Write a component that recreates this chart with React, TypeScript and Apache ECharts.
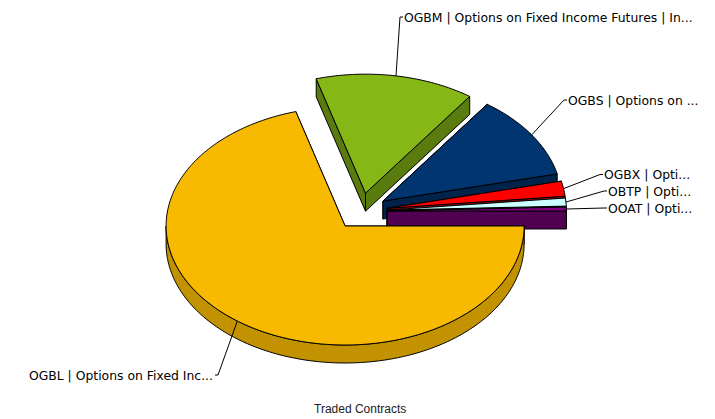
import React, { useEffect, useRef } from "react";
import * as echarts from "echarts";

const sliceLabels = [
  "OGBL | Options on Fixed Inc...",
  "OGBM | Options on Fixed Income Futures | In...",
  "OGBS | Options on ...",
  "OGBX | Opti...",
  "OBTP | Opti...",
  "OOAT | Opti...",
];
const sliceValues = [70.56, 14.33, 11.44, 2.06, 1.08, 0.53];
const chartTitle = "Traded Contracts";

const topColors = ["#F8BA00", "#85B716", "#003570", "#FF0000", "#CCFFFF", "#800080"];
const sideColors = ["#C29200", "#5A7C0F", "#00234C", "#B00000", "#99CCCC", "#520052"];
// label anchor: [x, y, align]
const labelLayout: [number, number, string][] = [
  [213, 375, "right"],
  [404, 17, "left"],
  [568, 100, "left"],
  [604, 174.5, "left"],
  [608, 191, "left"],
  [608, 208, "left"],
];

const CX = 361;
const CY = 211.3;
const RX = 179;
const RY = 119;
const EX = 26.4;
const EY = 18.4;
const DEPTH = 18;
const rad = (d: number) => (d * Math.PI) / 180;

const total = sliceValues.reduce((s, v) => s + v, 0);
const angles: [number, number][] = [];
{
  let t = 360;
  sliceValues.forEach((v) => {
    const next = t - (v / total) * 360;
    angles.push([next, t]);
    t = next;
  });
}

function renderItem(params: any, api: any) {
  const i = params.dataIndex;
  const [t0, t1] = angles[i];
  const mid = (t0 + t1) / 2;
  const ox = CX + EX * Math.cos(rad(mid));
  const oy = CY - EY * Math.sin(rad(mid));
  const pt = (t: number, dz = 0): [number, number] => [
    ox + RX * Math.cos(rad(t)),
    oy - RY * Math.sin(rad(t)) + dz,
  ];
  const arc = (a: number, b: number, dz = 0) => {
    const n = Math.max(2, Math.ceil(Math.abs(b - a) / 1));
    const out: [number, number][] = [];
    for (let k = 0; k <= n; k++) out.push(pt(a + ((b - a) * k) / n, dz));
    return out;
  };
  const apex: [number, number] = [ox, oy];
  const apexLow: [number, number] = [ox, oy + DEPTH];
  const base = i === 0 ? 100 : i * 10;
  const side = { fill: sideColors[i], stroke: "#000", lineWidth: 1, lineJoin: "round" };
  const children: any[] = [];
  const wall = (points: [number, number][]) =>
    children.push({
      type: "polygon",
      z2: base + children.length,
      shape: { points },
      style: side,
      silent: true,
    });
  wall([apex, pt(t1), pt(t1, DEPTH), apexLow]);
  wall([apex, pt(t0), pt(t0, DEPTH), apexLow]);
  const a = Math.max(t0, 180);
  const b = Math.min(t1, 360);
  if (b > a) wall([...arc(a, b), ...arc(b, a, DEPTH)]);
  children.push({
    type: "polygon",
    z2: base + children.length,
    shape: { points: [apex, ...arc(t0, t1)] },
    style: { fill: topColors[i], stroke: "#000", lineWidth: 1, lineJoin: "round" },
    silent: true,
  });
  const [lx, ly, align] = labelLayout[i];
  const anchor = pt(mid);
  const elbowX = align === "right" ? lx + 2 : lx - 1;
  const hookX = align === "right" ? lx + 5 : lx - 4;
  children.push({
    type: "polyline",
    z2: 200,
    shape: { points: [anchor, [hookX, ly], [elbowX, ly]] },
    style: { stroke: "#000", lineWidth: 1, fill: "none" },
    silent: true,
  });
  children.push({
    type: "text",
    z2: 201,
    x: lx,
    y: ly,
    style: {
      text: sliceLabels[i],
      fill: "#000",
      font: "12.4px 'DejaVu Sans'",
      align,
      verticalAlign: "middle",
    },
    silent: true,
  });
  return { type: "group", children };
}

export default function App() {
  const ref = useRef<HTMLDivElement>(null);
  useEffect(() => {
    const chart = echarts.init(ref.current!, undefined, { renderer: "svg" });
    chart.setOption({
      animation: false,
      backgroundColor: "#fff",
      title: {
        text: chartTitle,
        left: 314,
        top: 403,
        padding: 0,
        textStyle: { fontFamily: "'Liberation Sans'", fontSize: 12, fontWeight: "normal", color: "#222" },
      },
      series: [
        {
          type: "custom",
          coordinateSystem: "none",
          renderItem,
          data: sliceValues.map((v, i) => ({ name: sliceLabels[i], value: [v] })),
        },
      ],
    });
    return () => chart.dispose();
  }, []);
  return (
    <div
      ref={ref}
      style={{ position: "absolute", left: 0, top: 0, width: 715, height: 419 }}
    />
  );
}
